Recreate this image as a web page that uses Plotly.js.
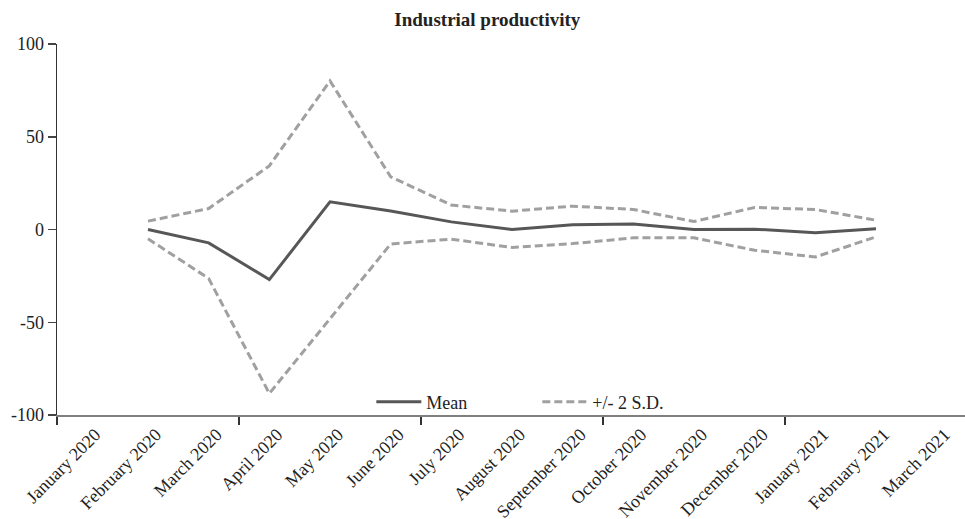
<!DOCTYPE html>
<html>
<head>
<meta charset="utf-8">
<script src="https://cdn.plot.ly/plotly-3.0.1.min.js"></script>
<style>html,body{margin:0;padding:0;background:#fff;}#chart{width:965px;height:519px;}</style>
</head>
<body>
<div id="chart"></div>
<script>
const months = ["January 2020","February 2020","March 2020","April 2020","May 2020","June 2020","July 2020","August 2020","September 2020","October 2020","November 2020","December 2020","January 2021","February 2021","March 2021"];
const dataMonths = ["February 2020","March 2020","April 2020","May 2020","June 2020","July 2020","August 2020","September 2020","October 2020","November 2020","December 2020","January 2021","February 2021"];
const meanValues = [0, -7.2, -27, 14.9, 10, 4.1, 0, 2.5, 3.0, 0, 0.2, -1.8, 0.4];
const upperValues = [4.5, 11.3, 34.3, 80.1, 28.4, 13.2, 9.9, 12.6, 10.8, 4.3, 11.9, 10.8, 5.0];
const lowerValues = [-5, -26.4, -88.4, -48, -7.8, -5.2, -9.7, -7.6, -4.5, -4.5, -11.2, -14.8, -4.0];
const yTicks = [-100, -50, 0, 50, 100];
const yTickLabels = ["-100", "-50", "0", "50", "100"];

const monthIndex = m => months.indexOf(m);
const xPos = dataMonths.map(monthIndex);
const xTickPos = months.map(monthIndex);

const font = "Liberation Serif, Times New Roman, serif";
const sdColor = "#a0a0a0";

const traces = [
  {x: xPos, y: meanValues, type: "scatter", mode: "lines", name: "Mean",
   line: {color: "#575757", width: 3}},
  {x: xPos, y: upperValues, type: "scatter", mode: "lines", name: "+/- 2 S.D.",
   line: {color: sdColor, width: 3, dash: "8px,4px"}, legendgroup: "sd"},
  {x: xPos, y: lowerValues, type: "scatter", mode: "lines", name: "+/- 2 S.D.",
   line: {color: sdColor, width: 3, dash: "8px,4px"}, legendgroup: "sd", showlegend: false}
];

const layout = {
  width: 965, height: 519,
  margin: {l: 57, r: 0, t: 44, b: 104},
  paper_bgcolor: "#fff", plot_bgcolor: "#fff",
  font: {family: font, size: 18, color: "#222"},
  title: {text: "<b>Industrial productivity</b>", x: 0.505, xref: "container", xanchor: "center",
          y: 0.962, yref: "container", yanchor: "middle", font: {family: font, size: 19, color: "#222"}},
  showlegend: true,
  legend: {orientation: "h", x: 0.529, xanchor: "center", y: 0.035, yanchor: "middle",
           bgcolor: "rgba(0,0,0,0)", font: {family: font, size: 18, color: "#222"},
           itemwidth: 45, entrywidth: 106},
  xaxis: {type: "linear", range: [-0.5, 14.467], tickmode: "array", tickvals: xTickPos, ticktext: months,
          ticks: "", tickangle: -45, ticklabelshift: 8, ticklabelstandoff: 0,
          showgrid: false, zeroline: false,
          showline: true, linecolor: "#7f7f7f", linewidth: 2, fixedrange: true,
          tickfont: {family: font, size: 18, color: "#222"},
          minor: {tickmode: "linear", tick0: -0.5, dtick: 3, ticks: "outside", ticklen: 8, tickwidth: 1.5,
                  tickcolor: "#333", showgrid: false}},
  yaxis: {range: [-100, 100], tickmode: "array", tickvals: yTicks, ticktext: yTickLabels,
          ticks: "outside", ticklen: 8, tickwidth: 1.5, tickcolor: "#444",
          showgrid: false, zeroline: false, showline: true, linecolor: "#333", linewidth: 1.5,
          tickfont: {family: font, size: 18, color: "#222"}}
};

Plotly.newPlot("chart", traces, layout, {staticPlot: true});
</script>
</body>
</html>
